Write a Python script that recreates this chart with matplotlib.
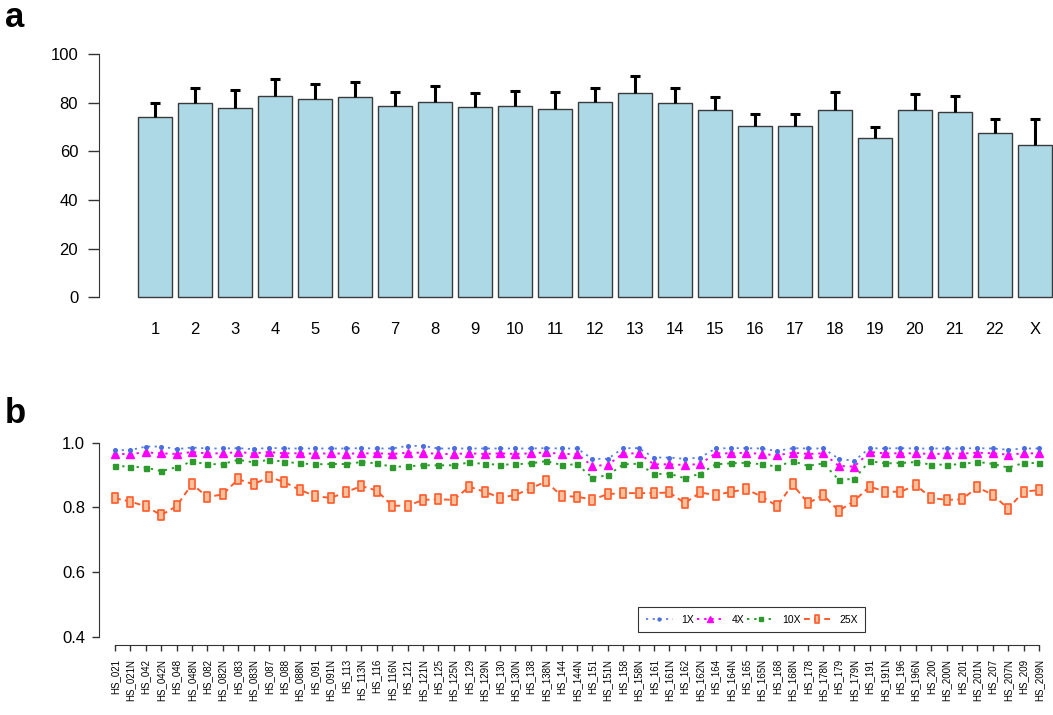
import numpy as np
import matplotlib
matplotlib.use("Agg")
import matplotlib.pyplot as plt
from matplotlib.path import Path

plt.rcParams['font.family'] = ['Liberation Sans', 'DejaVu Sans']

# ---------------- data: panel a ----------------
chromosomes = ['1', '2', '3', '4', '5', '6', '7', '8', '9', '10', '11', '12',
               '13', '14', '15', '16', '17', '18', '19', '20', '21', '22', 'X']
chrom_mean = [74.2, 79.7, 77.9, 82.6, 81.4, 82.2, 78.6, 80.1, 78.1, 78.6, 77.5, 80.3,
              84.1, 79.9, 77.0, 70.5, 70.4, 76.8, 65.6, 77.1, 76.0, 67.5, 62.7]
chrom_upper = [80.0, 85.9, 85.1, 89.7, 87.8, 88.4, 84.4, 86.7, 84.1, 84.8, 84.5, 86.2,
               91.1, 86.2, 82.5, 75.5, 75.3, 84.2, 69.9, 83.7, 82.6, 73.3, 73.3]

# ---------------- data: panel b ----------------
samples = ['HS_021', 'HS_021N', 'HS_042', 'HS_042N', 'HS_048', 'HS_048N', 'HS_082', 'HS_082N',
           'HS_083', 'HS_083N', 'HS_087', 'HS_088', 'HS_088N', 'HS_091', 'HS_091N', 'HS_113',
           'HS_113N', 'HS_116', 'HS_116N', 'HS_121', 'HS_121N', 'HS_125', 'HS_125N', 'HS_129',
           'HS_129N', 'HS_130', 'HS_130N', 'HS_138', 'HS_138N', 'HS_144', 'HS_144N', 'HS_151',
           'HS_151N', 'HS_158', 'HS_158N', 'HS_161', 'HS_161N', 'HS_162', 'HS_162N', 'HS_164',
           'HS_164N', 'HS_165', 'HS_165N', 'HS_168', 'HS_168N', 'HS_178', 'HS_178N', 'HS_179',
           'HS_179N', 'HS_191', 'HS_191N', 'HS_196', 'HS_196N', 'HS_200', 'HS_200N', 'HS_201',
           'HS_201N', 'HS_207', 'HS_207N', 'HS_209', 'HS_209N']

cov_1x = [0.977, 0.977, 0.988, 0.988, 0.980, 0.985, 0.982, 0.982, 0.983, 0.980,
          0.984, 0.982, 0.982, 0.982, 0.982, 0.982, 0.983, 0.982, 0.982, 0.990,
          0.990, 0.982, 0.982, 0.982, 0.982, 0.982, 0.982, 0.982, 0.983, 0.982,
          0.982, 0.950, 0.950, 0.983, 0.983, 0.954, 0.954, 0.950, 0.954, 0.982,
          0.983, 0.983, 0.982, 0.974, 0.983, 0.982, 0.982, 0.950, 0.944, 0.983,
          0.982, 0.983, 0.982, 0.982, 0.982, 0.982, 0.983, 0.982, 0.978, 0.982,
          0.982]
cov_4x = [0.965, 0.965, 0.970, 0.967, 0.965, 0.971, 0.967, 0.967, 0.971, 0.967,
          0.971, 0.967, 0.967, 0.966, 0.967, 0.966, 0.967, 0.967, 0.965, 0.969,
          0.969, 0.965, 0.965, 0.967, 0.965, 0.967, 0.965, 0.967, 0.970, 0.965,
          0.965, 0.928, 0.931, 0.967, 0.967, 0.933, 0.933, 0.931, 0.934, 0.967,
          0.967, 0.969, 0.965, 0.961, 0.969, 0.965, 0.967, 0.928, 0.926, 0.971,
          0.967, 0.967, 0.967, 0.965, 0.966, 0.966, 0.969, 0.967, 0.963, 0.967,
          0.967]
cov_10x = [0.928, 0.926, 0.923, 0.912, 0.924, 0.942, 0.933, 0.934, 0.947, 0.939,
           0.947, 0.941, 0.936, 0.933, 0.934, 0.934, 0.940, 0.936, 0.925, 0.927,
           0.930, 0.930, 0.930, 0.939, 0.934, 0.932, 0.933, 0.936, 0.943, 0.931,
           0.933, 0.892, 0.899, 0.933, 0.935, 0.903, 0.904, 0.890, 0.904, 0.933,
           0.936, 0.938, 0.933, 0.926, 0.943, 0.928, 0.936, 0.885, 0.888, 0.943,
           0.936, 0.937, 0.940, 0.932, 0.932, 0.933, 0.941, 0.934, 0.923, 0.937,
           0.937]
cov_25x = [0.828, 0.818, 0.803, 0.776, 0.804, 0.872, 0.832, 0.840, 0.887, 0.871,
           0.894, 0.878, 0.854, 0.835, 0.829, 0.847, 0.866, 0.852, 0.805, 0.805,
           0.823, 0.825, 0.823, 0.864, 0.848, 0.830, 0.838, 0.859, 0.880, 0.835,
           0.833, 0.824, 0.841, 0.844, 0.844, 0.844, 0.846, 0.813, 0.846, 0.838,
           0.848, 0.856, 0.833, 0.804, 0.871, 0.813, 0.838, 0.789, 0.820, 0.864,
           0.849, 0.848, 0.869, 0.829, 0.823, 0.825, 0.862, 0.839, 0.796, 0.849,
           0.853]
series_labels = ['1X', '4X', '10X', '25X']

# ---------------- figure ----------------
W, H = 1053, 715
fig = plt.figure(figsize=(W / 100, H / 100), dpi=100)
axis_col = '#333333'

# ---------- panel a ----------
a_left, a_top, a_bot = 99, 44.3, 307
axa = fig.add_axes([a_left / W, 1 - a_bot / H, (W - a_left) / W, (a_bot - a_top) / H])
n = len(chromosomes)
xc = 0.7 + 1.2 * np.arange(n)
unit = 33.33
x0px = 155 - 0.7 * unit
axa.set_xlim((a_left - x0px) / unit, (W - x0px) / unit)
axa.set_ylim(-4, 104)
axa.bar(xc, chrom_mean, width=1.0, color='#ADD8E6', edgecolor='#3a3a3a', linewidth=1.0, zorder=2)
axa.vlines(xc, chrom_mean, chrom_upper, color='black', linewidth=2.2, zorder=3)
axa.plot(xc, chrom_upper, ls='none', marker='_', ms=7, mew=2.2, color='black', zorder=3)
for s in ['top', 'right', 'bottom']:
    axa.spines[s].set_visible(False)
axa.spines['left'].set_bounds(0, 100)
axa.spines['left'].set_color(axis_col)
axa.set_yticks(np.arange(0, 101, 20))
axa.tick_params(axis='y', length=8, width=1, color=axis_col, labelsize=12, pad=7)
axa.set_xticks(xc)
axa.set_xticklabels(chromosomes)
axa.tick_params(axis='x', length=0, labelsize=12, pad=11)

# ---------- panel b ----------
b_left, b_top, b_bot = 99, 434.9, 644.5
axb = fig.add_axes([b_left / W, 1 - b_bot / H, (W - b_left) / W, (b_bot - b_top) / H])
m = len(samples)
xi = np.arange(1, m + 1)
step = 15.4
x1px = 115
axb.set_xlim(1 + (b_left - x1px) / step, 1 + (W - x1px) / step)
axb.set_ylim(0.376, 1.024)

rect = Path([(-0.3, -0.5), (0.3, -0.5), (0.3, 0.5), (-0.3, 0.5), (-0.3, -0.5)],
            [Path.MOVETO, Path.LINETO, Path.LINETO, Path.LINETO, Path.CLOSEPOLY])

h25, = axb.plot(xi, cov_25x, color='#ff5a2a', lw=1.4, ls=(0, (3, 2.2)), marker=rect, ms=6.5,
                mfc='#ffc09a', mec='#ff5a2a', mew=1.2, label=series_labels[3], zorder=2)
h10, = axb.plot(xi, cov_10x, color='#2e9a2e', lw=1.4, ls=(0, (1.2, 2.5)), marker='s', ms=3.6,
                mfc='#2e9a2e', mec='#2e9a2e', label=series_labels[2], zorder=3)
h4, = axb.plot(xi, cov_4x, color='#ff00ff', lw=1.4, ls=(0, (1.2, 2.5)), marker='^', ms=5.5,
               mfc='#ff00ff', mec='#ff00ff', label=series_labels[1], zorder=4)
h1, = axb.plot(xi, cov_1x, color='#5a7ee6', lw=1.3, ls=(0, (1.2, 2.5)), marker='o', ms=2.6,
               mfc='#4a6ee0', mec='#4a6ee0', label=series_labels[0], zorder=5)

for s in ['top', 'right']:
    axb.spines[s].set_visible(False)
axb.spines['left'].set_bounds(0.4, 1.0)
axb.spines['bottom'].set_bounds(1, m)
axb.spines['left'].set_color(axis_col)
axb.spines['bottom'].set_color(axis_col)
axb.set_yticks([0.4, 0.6, 0.8, 1.0])
axb.set_yticklabels(['0.4', '0.6', '0.8', '1.0'])
axb.tick_params(axis='y', length=5, width=1, color=axis_col, labelsize=12, pad=5)
axb.set_xticks(xi)
axb.set_xticklabels(samples, rotation=90)
axb.tick_params(axis='x', length=4.3, width=1, color=axis_col, labelsize=7, pad=6)

leg = axb.legend([h1, h4, h10, h25], series_labels,
                 loc='lower left', bbox_to_anchor=(0.565, 0.058), borderaxespad=0,
                 ncol=4, fontsize=7.5, frameon=True, fancybox=False, handlelength=2.6,
                 handletextpad=0.8, columnspacing=0.25, borderpad=0.75, numpoints=1,
                 markerscale=0.8)
leg.get_frame().set_edgecolor('black')
leg.get_frame().set_linewidth(0.8)

# panel letters
fig.text(5 / W, 1 - 27 / H, 'a', fontsize=25, fontweight='bold', va='baseline', ha='left')
fig.text(5 / W, 1 - 423 / H, 'b', fontsize=25, fontweight='bold', va='baseline', ha='left')

fig.savefig('out.png', dpi=100)
